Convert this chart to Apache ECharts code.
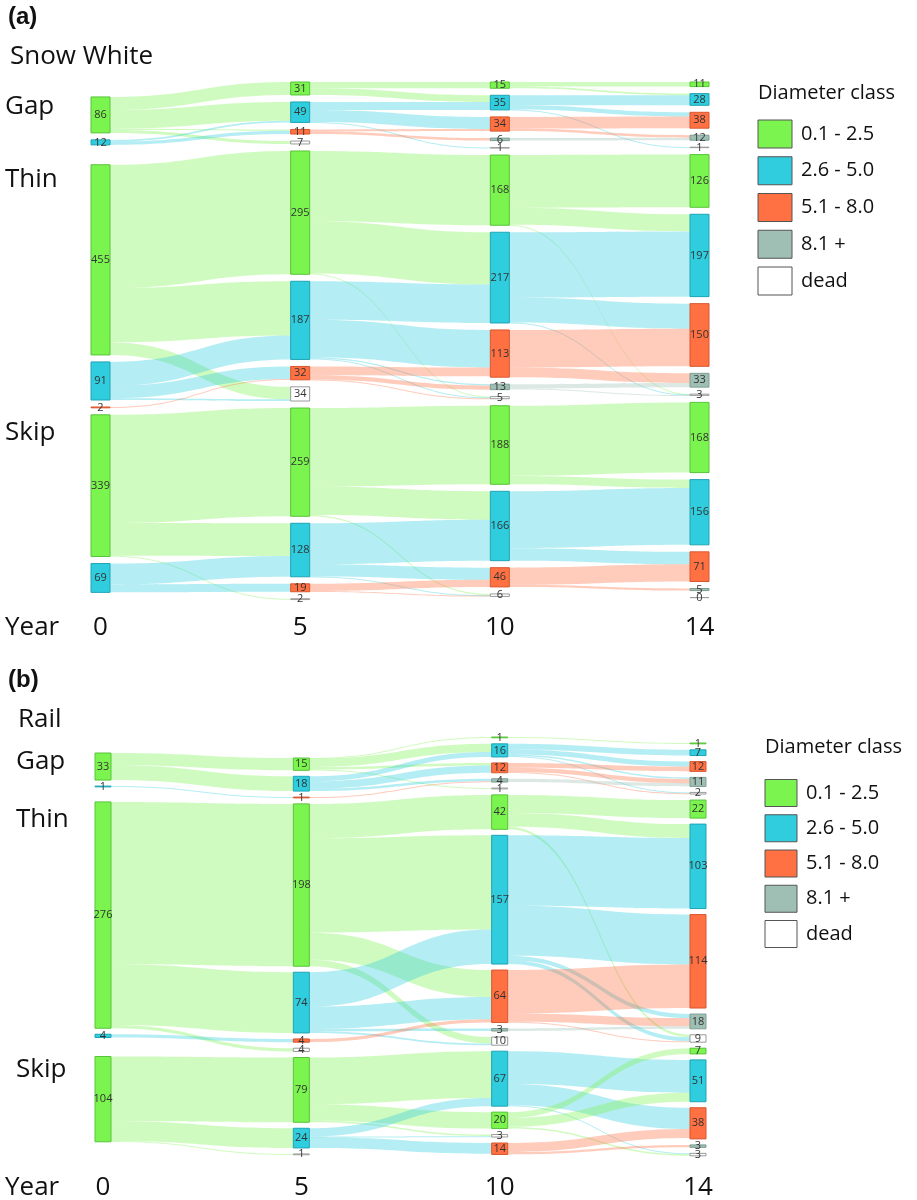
<!DOCTYPE html>
<html>
<head>
<meta charset="utf-8">
<script src="https://cdn.jsdelivr.net/npm/echarts@6.0.0/dist/echarts.min.js"></script>
<style>
  html, body { margin: 0; padding: 0; background: #ffffff; }
  #chart { width: 917px; height: 1200px; }
</style>
</head>
<body>
<div id="chart"></div>
<script>
// ---- data -----------------------------------------------------------------
const years = ['0', '5', '10', '14'];
const classLabels = ['0.1 - 2.5', '2.6 - 5.0', '5.1 - 8.0', '8.1 +', 'dead'];
const treatments = ['Gap', 'Thin', 'Skip'];

// Snow White: nodes per census year as [treatment, diameter class index, trees]
const snowYear0 = [['Gap',0,86],['Gap',1,12],['Thin',0,455],['Thin',1,91],['Thin',2,2],['Skip',0,339],['Skip',1,69]];
const snowYear5 = [['Gap',0,31],['Gap',1,49],['Gap',2,11],['Gap',4,7],['Thin',0,295],['Thin',1,187],['Thin',2,32],['Thin',4,34],['Skip',0,259],['Skip',1,128],['Skip',2,19],['Skip',4,2]];
const snowYear10 = [['Gap',0,15],['Gap',1,35],['Gap',2,34],['Gap',3,6],['Gap',4,1],['Thin',0,168],['Thin',1,217],['Thin',2,113],['Thin',3,13],['Thin',4,5],['Skip',0,188],['Skip',1,166],['Skip',2,46],['Skip',4,6]];
const snowYear14 = [['Gap',0,11],['Gap',1,28],['Gap',2,38],['Gap',3,12],['Gap',4,1],['Thin',0,126],['Thin',1,197],['Thin',2,150],['Thin',3,33],['Thin',4,3],['Skip',0,168],['Skip',1,156],['Skip',2,71],['Skip',3,5],['Skip',4,0]];
// transitions: [treatment, from year index, from class, to class, trees]
const snowFlows = [
  ['Gap',0,0,0,31],['Gap',0,0,1,45],['Gap',0,0,2,3],['Gap',0,0,4,7],['Gap',0,1,1,4],['Gap',0,1,2,8],
  ['Thin',0,0,0,295],['Thin',0,0,1,130],['Thin',0,0,4,30],['Thin',0,1,1,57],['Thin',0,1,2,30],['Thin',0,1,4,4],['Thin',0,2,2,2],
  ['Skip',0,0,0,259],['Skip',0,0,1,78],['Skip',0,0,4,2],['Skip',0,1,1,50],['Skip',0,1,2,19],
  ['Gap',1,0,0,15],['Gap',1,0,1,16],['Gap',1,1,1,19],['Gap',1,1,2,29],['Gap',1,1,4,1],['Gap',1,2,2,5],['Gap',1,2,3,6],
  ['Thin',1,0,0,168],['Thin',1,0,1,125],['Thin',1,0,4,2],['Thin',1,1,1,92],['Thin',1,1,2,90],['Thin',1,1,3,3],['Thin',1,1,4,2],['Thin',1,2,2,21],['Thin',1,2,3,10],['Thin',1,2,4,1],
  ['Skip',1,0,0,188],['Skip',1,0,1,68],['Skip',1,0,4,3],['Skip',1,1,1,98],['Skip',1,1,2,29],['Skip',1,1,4,1],['Skip',1,2,2,17],['Skip',1,2,4,2],
  ['Gap',2,0,0,11],['Gap',2,0,1,4],['Gap',2,1,1,24],['Gap',2,1,2,10],['Gap',2,1,4,1],['Gap',2,2,2,28],['Gap',2,2,3,6],['Gap',2,3,3,6],
  ['Thin',2,0,0,126],['Thin',2,0,1,41],['Thin',2,0,4,1],['Thin',2,1,1,156],['Thin',2,1,2,60],['Thin',2,1,4,1],['Thin',2,2,2,90],['Thin',2,2,3,23],['Thin',2,3,3,10],['Thin',2,3,4,1],
  ['Skip',2,0,0,168],['Skip',2,0,1,20],['Skip',2,1,1,136],['Skip',2,1,2,30],['Skip',2,2,2,41],['Skip',2,2,3,5]
];

// Rail
const railYear0 = [['Gap',0,33],['Gap',1,1],['Thin',0,276],['Thin',1,4],['Skip',0,104]];
const railYear5 = [['Gap',0,15],['Gap',1,18],['Gap',2,1],['Thin',0,198],['Thin',1,74],['Thin',2,4],['Thin',4,4],['Skip',0,79],['Skip',1,24],['Skip',4,1]];
const railYear10 = [['Gap',0,1],['Gap',1,16],['Gap',2,12],['Gap',3,4],['Gap',4,1],['Thin',0,42],['Thin',1,157],['Thin',2,64],['Thin',3,3],['Thin',4,10],['Skip',1,67],['Skip',0,20],['Skip',4,3],['Skip',2,14]];
const railYear14 = [['Gap',0,1],['Gap',1,7],['Gap',2,12],['Gap',3,11],['Gap',4,2],['Thin',0,22],['Thin',1,103],['Thin',2,114],['Thin',3,18],['Thin',4,9],['Skip',0,7],['Skip',1,51],['Skip',2,38],['Skip',3,3],['Skip',4,3]];
const railFlows = [
  ['Gap',0,0,0,15],['Gap',0,0,1,18],['Gap',0,1,2,1],
  ['Thin',0,0,0,198],['Thin',0,0,1,74],['Thin',0,0,4,4],['Thin',0,1,2,4],
  ['Skip',0,0,0,79],['Skip',0,0,1,24],['Skip',0,0,4,1],
  ['Gap',1,0,0,1],['Gap',1,0,1,10],['Gap',1,0,2,3],['Gap',1,0,4,1],['Gap',1,1,1,6],['Gap',1,1,2,9],['Gap',1,1,3,3],['Gap',1,2,3,1],
  ['Thin',1,0,0,42],['Thin',1,0,1,115],['Thin',1,0,2,33],['Thin',1,0,4,8],['Thin',1,1,1,42],['Thin',1,1,2,27],['Thin',1,1,3,3],['Thin',1,1,4,2],['Thin',1,2,2,4],
  ['Skip',1,0,0,20],['Skip',1,0,1,57],['Skip',1,0,4,2],['Skip',1,1,1,10],['Skip',1,1,2,13],['Skip',1,1,4,1],
  ['Gap',2,0,0,1],['Gap',2,1,1,7],['Gap',2,1,2,6],['Gap',2,1,3,2],['Gap',2,1,4,1],['Gap',2,2,2,6],['Gap',2,2,3,5],['Gap',2,2,4,1],['Gap',2,3,3,4],
  ['Thin',2,0,0,22],['Thin',2,0,1,17],['Thin',2,0,4,3],['Thin',2,1,1,86],['Thin',2,1,2,61],['Thin',2,1,3,5],['Thin',2,1,4,5],['Thin',2,2,2,53],['Thin',2,2,3,10],['Thin',2,2,4,1],['Thin',2,3,3,3],
  ['Skip',2,1,1,40],['Skip',2,1,2,26],['Skip',2,1,4,1],['Skip',2,0,0,7],['Skip',2,0,1,11],['Skip',2,0,4,2],['Skip',2,2,2,11],['Skip',2,2,3,3]
];

// ---- styling & layout -----------------------------------------------------
const classColors  = ['#7cf44f', '#30cdde', '#ff7043', '#9fbfb5', '#ffffff'];
const classBorders = ['#58c43a', '#1ea5b5', '#d9572f', '#7f9e94', '#9a9a9a'];
const FONT = '"Open Sans", "DejaVu Sans", sans-serif';

// spacers: [year index, insert position in that column, height in tree units]
const snowLayout = {
  id: 'sw', left: 91, top: 82, width: 618, nodeWidth: 19, ky: 0.418, gap: 7,
  spacers: [[0, 0, 19], [0, 2, 14]]
};
const railLayout = {
  id: 'rl', left: 95, top: 737, width: 611, nodeWidth: 16, ky: 0.82, gap: 6,
  spacers: [[0, 0, 12.2], [0, 2, 3.7], [0, 4, 8.5], [1, 0, 18.3], [3, 0, 0]]
};

function nodeName(grp, yi, cls) {
  return grp + ' · ' + years[yi] + ' · ' + classLabels[cls];
}

function buildSankey(columns, flows, lay) {
  const links = flows.map(([grp, yi, from, to, n]) => ({
    source: nodeName(grp, yi, from),
    target: nodeName(grp, yi + 1, to),
    value: n
  }));
  const inSum = {}, outSum = {};
  links.forEach(l => {
    outSum[l.source] = (outSum[l.source] || 0) + l.value;
    inSum[l.target] = (inSum[l.target] || 0) + l.value;
  });
  const data = [];
  let span = 0;
  columns.forEach((col, yi) => {
    const items = col.map(([grp, cls, n]) => ({
      name: nodeName(grp, yi, cls),
      value: n,
      depth: yi,
      itemStyle: { color: classColors[cls], borderColor: classBorders[cls], borderWidth: 1 }
    }));
    lay.spacers
      .filter(s => s[0] === yi)
      .sort((a, b) => b[1] - a[1])
      .forEach(s => {
        items.splice(s[1], 0, {
          name: 'spacer ' + lay.id + ' ' + yi + ' ' + s[1],
          value: s[2],
          depth: yi,
          itemStyle: { color: 'rgba(0,0,0,0)', borderWidth: 0 },
          label: { show: false }
        });
      });
    let total = 0;
    items.forEach(it => {
      total += Math.max(it.value, inSum[it.name] || 0, outSum[it.name] || 0);
    });
    span = Math.max(span, total * lay.ky + (items.length - 1) * lay.gap);
    data.push(...items);
  });
  return {
    type: 'sankey',
    left: lay.left,
    top: lay.top,
    width: lay.width,
    height: span,
    nodeWidth: lay.nodeWidth,
    nodeGap: lay.gap,
    nodeAlign: 'left',
    layoutIterations: 0,
    draggable: false,
    data: data,
    links: links,
    label: {
      show: true,
      position: 'inside',
      color: '#333333',
      fontFamily: FONT,
      fontSize: 11,
      formatter: p => String(p.value)
    },
    lineStyle: { color: 'source', opacity: 0.36, curveness: 0.5 },
    emphasis: { disabled: true }
  };
}

function text(str, x, y, size, extra) {
  return {
    type: 'text',
    x: x, y: y,
    silent: true,
    style: Object.assign({
      text: str,
      fill: '#111111',
      font: size + 'px ' + FONT,
      align: 'left', verticalAlign: 'middle',
      textAlign: 'left', textVerticalAlign: 'middle'
    }, extra || {})
  };
}

function panelGraphics(lay, tag, title, titleY, labelX, labelYs, yearY, legend) {
  const els = [];
  els.push(text(tag, 8, titleY - 40, 24, { font: 'bold 24px "Liberation Sans", Arial, sans-serif' }));
  els.push(text(title, labelX.title, titleY, 26));
  treatments.forEach((t, i) => els.push(text(t, labelX.groups, labelYs[i], 26)));
  els.push(text('Year', 5, yearY, 26));
  const step = (lay.width - lay.nodeWidth) / (years.length - 1);
  years.forEach((yr, i) => {
    const cx = lay.left + i * step + lay.nodeWidth / 2;
    els.push(text(yr, cx, yearY, 26, { align: 'center', textAlign: 'center' }));
  });
  els.push(text('Diameter class', legend.x, legend.titleY, 20));
  classLabels.forEach((c, i) => {
    const cy = legend.firstY + i * legend.step;
    els.push({
      type: 'rect', silent: true,
      shape: { x: legend.x, y: cy - legend.boxH / 2, width: legend.boxW, height: legend.boxH },
      style: { fill: classColors[i], stroke: '#555555', lineWidth: 1 }
    });
    els.push(text(c, legend.x + legend.boxW + 9, cy, 20));
  });
  return els;
}

const graphics = [].concat(
  panelGraphics(snowLayout, '(a)', 'Snow White', 57, { title: 10, groups: 5 }, [107, 180, 433], 628,
    { x: 758, titleY: 93, firstY: 134, step: 36.75, boxW: 34, boxH: 28 }),
  panelGraphics(railLayout, '(b)', 'Rail', 720, { title: 18, groups: 16 }, [762, 820, 1070], 1188,
    { x: 765, titleY: 747, firstY: 793, step: 35.25, boxW: 32, boxH: 27 })
);

const chart = echarts.init(document.getElementById('chart'), null, { renderer: 'canvas' });
chart.setOption({
  animation: false,
  backgroundColor: '#ffffff',
  tooltip: { show: false },
  graphic: { elements: graphics },
  series: [
    buildSankey([snowYear0, snowYear5, snowYear10, snowYear14], snowFlows, snowLayout),
    buildSankey([railYear0, railYear5, railYear10, railYear14], railFlows, railLayout)
  ]
});
</script>
</body>
</html>
